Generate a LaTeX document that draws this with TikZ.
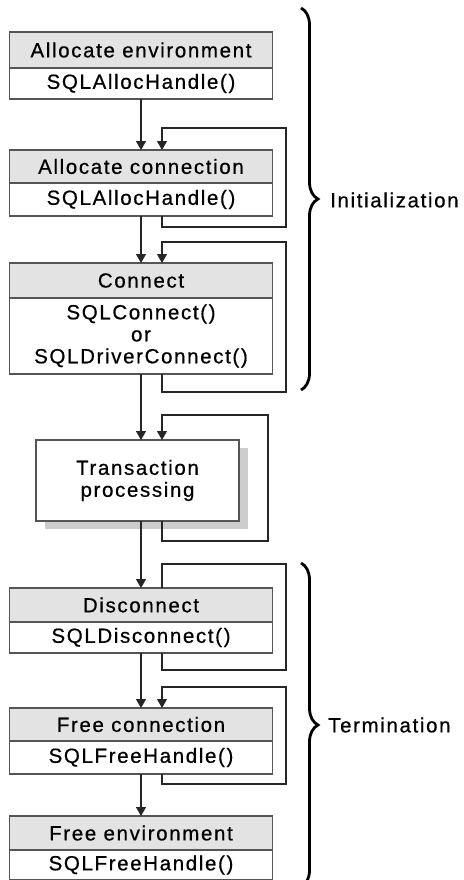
\documentclass[tikz,border=0pt]{standalone}
\usepackage{fontspec}
\setmainfont{Liberation Sans}[LetterSpace=8, FakeBold=0.6]
\usetikzlibrary{positioning,arrows.meta,shadows,decorations.pathreplacing}
\definecolor{headgray}{HTML}{E3E3E3}
\definecolor{boxline}{HTML}{555555}
\definecolor{flowline}{HTML}{262626}
\tikzset{
  head/.style={draw=boxline, line width=1.3pt, fill=headgray, minimum width=263pt,
    minimum height=34pt, inner sep=0pt, outer sep=0pt, font=\fontsize{20.5}{22}\selectfont},
  call/.style={head, fill=white, minimum height=32pt, align=center},
  flow/.style={draw=flowline, line width=1.4pt, -{Triangle[length=9pt,width=10pt]}},
  back/.style={draw=flowline, line width=1.2pt},
  bracket/.style={decorate, decoration={brace, amplitude=17pt}, line width=2.8pt},
  phase/.style={anchor=west, inner sep=0pt, font=\fontsize{20.5}{22}\selectfont},
}
\begin{document}
\begin{tikzpicture}[x=1pt, y=-1pt]
        \useasboundingbox (0,0) rectangle (463,880);
        \node [head, minimum height=36pt] (AllocEnv) at (141,50) {Allocate environment};
        \node [call, minimum height=31pt, below=0pt of AllocEnv] (AllocEnvCall) {SQLAllocHandle()};
        \node [head, minimum height=33pt, below=51pt of AllocEnvCall] (AllocConn) {Allocate connection};
        \node [call, minimum height=33pt, below=0pt of AllocConn] (AllocConnCall) {SQLAllocHandle()};
        \node [head, minimum height=35pt, below=47pt of AllocConnCall] (Conn) {Connect};
        \node [call, minimum height=76pt, below=0pt of Conn] (ConnCall) {SQLConnect()\\or\\SQLDriverConnect()};
        \node [call, minimum width=203pt, minimum height=81pt, below=66pt of ConnCall, xshift=-3.5pt,
          drop shadow={shadow xshift=9pt, shadow yshift=-8pt, fill=black!20, opacity=1}] (Trans) {Transaction\\processing};
        \node [head, below=67pt of Trans, xshift=3.5pt] (Disc) {Disconnect};
        \node [call, minimum height=31pt, below=0pt of Disc] (DiscCall) {SQLDisconnect()};
        \node [head, minimum height=33pt, below=55pt of DiscCall] (FreeConn) {Free connection};
        \node [call, minimum height=33pt, below=0pt of FreeConn] (FreeConnCall) {SQLFreeHandle()};
        \node [head, below=42pt of FreeConnCall] (FreeEnv) {Free environment};
        \node [call, minimum height=30pt, below=0pt of FreeEnv] (FreeEnvCall) {SQLFreeHandle()};

        \draw [flow] (AllocEnvCall) -- (AllocConn);
        \draw [flow] (AllocConnCall) -- (Conn);
        \draw [flow] (ConnCall.south) -- (ConnCall.south |- Trans.north);
        \draw [flow] (Disc.north |- Trans.south) -- (Disc.north);
        \draw [flow] (DiscCall) -- (FreeConn);
        \draw [flow] (FreeConnCall) -- (FreeEnv);

        % loops back to the same step
        \draw [back, -{Triangle[length=9pt,width=10pt]}] ([xshift=21pt]AllocConnCall.south) -- ++(0,11)
          -| ([xshift=145pt,yshift=22pt]AllocConn.north) -- ([xshift=21pt,yshift=22pt]AllocConn.north) -- ([xshift=21pt]AllocConn.north);
        \draw [back, -{Triangle[length=9pt,width=10pt]}] ([xshift=21pt]ConnCall.south) -- ++(0,18)
          -| ([xshift=145pt,yshift=21pt]Conn.north) -- ([xshift=21pt,yshift=21pt]Conn.north) -- ([xshift=21pt]Conn.north);
        \draw [back, -{Triangle[length=9pt,width=10pt]}] ([xshift=24.5pt]Trans.south) -- ++(0,20)
          -| ([xshift=130.5pt,yshift=25pt]Trans.north) -- ([xshift=24.5pt,yshift=25pt]Trans.north) -- ([xshift=24.5pt]Trans.north);
        \draw [back] ([xshift=21pt]DiscCall.south) -- ++(0,17)
          -| ([xshift=145pt,yshift=24pt]Disc.north) -- ([xshift=21pt,yshift=24pt]Disc.north) -- ([xshift=21pt]Disc.north);
        \draw [back, -{Triangle[length=9pt,width=10pt]}] ([xshift=21pt]FreeConnCall.south) -- ++(0,10)
          -| ([xshift=145pt,yshift=21pt]FreeConn.north) -- ([xshift=21pt,yshift=21pt]FreeConn.north) -- ([xshift=21pt]FreeConn.north);

        % phases
        \coordinate (InitTop) at (301,8);
        \coordinate (InitBot) at (301,390);
        \coordinate (TermTop) at (301,563);
        \coordinate (TermBot) at (301,887);
        \draw [bracket] (InitTop) -- (InitBot);
        \draw [bracket] (TermTop) -- (TermBot);
        \node [phase] (Init) at (330,200) {Initialization};
        \node [phase] (Term) at (328,725) {Termination};
\end{tikzpicture}
\end{document}
